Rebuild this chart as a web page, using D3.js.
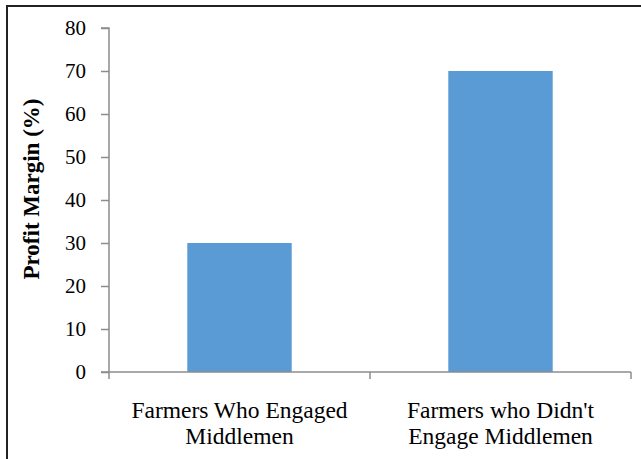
<!DOCTYPE html>
<html lang="en">
<head>
  <meta charset="UTF-8">
  <title>Profit Margin</title>
  <script src="https://cdn.jsdelivr.net/npm/d3@7"></script>
  <style>
    body { margin: 0; background: #fff; }
    text { font-family: "Liberation Serif", "Times New Roman", serif; }
  </style>
</head>
<body>
  <svg id="chart" width="641" height="459"></svg>
  <script>
    const categories = ["Farmers Who Engaged|Middlemen", "Farmers who Didn't|Engage Middlemen"];
    const values = [30, 70];
    const yTicks = [0, 10, 20, 30, 40, 50, 60, 70, 80];

    const svg = d3.select('#chart');
    const plotLeft = 109, plotRight = 631, plotTop = 28, plotBottom = 372;
    const serif = '"Liberation Serif", "Times New Roman", serif';

    // outer frame (left and top edges only visible)
    svg.append('path')
      .attr('d', 'M7,459 V6 H641')
      .attr('fill', 'none')
      .attr('stroke', '#222')
      .attr('stroke-width', 2);

    let x = d3.scaleBand().domain(categories).range([plotLeft, plotRight]).paddingInner(0.6).paddingOuter(0.3);
    let y = d3.scaleLinear().domain([0, 80]).range([plotBottom, plotTop]);

    svg.selectAll('rect.bar')
      .data(values)
      .join('rect')
      .attr('class', 'bar')
      .attr('x', (d, i) => x(categories[i]))
      .attr('y', d => y(d))
      .attr('width', x.bandwidth())
      .attr('height', d => plotBottom - y(d))
      .attr('fill', '#5b9bd5');

    // y axis
    let yAxis = svg.append('g')
      .attr('transform', `translate(${plotLeft},0)`)
      .call(d3.axisLeft(y).tickValues(yTicks).tickSize(8).tickPadding(15));
    yAxis.selectAll('line, path').attr('stroke', '#8c8c8c').attr('stroke-width', 1.5);
    yAxis.select('.domain').attr('d', `M-8,${plotTop}H0V${plotBottom}H-8`);
    yAxis.selectAll('text').attr('font-size', 21).attr('fill', '#000')
      .style('font-family', serif);

    // x axis: ticks at band boundaries
    let step = (plotRight - plotLeft) / categories.length;
    let xg = svg.append('g');
    xg.append('line')
      .attr('x1', plotLeft).attr('x2', plotRight)
      .attr('y1', plotBottom).attr('y2', plotBottom)
      .attr('stroke', '#8c8c8c').attr('stroke-width', 1.5);
    xg.selectAll('line.tick')
      .data(d3.range(categories.length + 1))
      .join('line')
      .attr('class', 'tick')
      .attr('x1', i => plotLeft + i * step).attr('x2', i => plotLeft + i * step)
      .attr('y1', plotBottom).attr('y2', plotBottom + 7)
      .attr('stroke', '#8c8c8c').attr('stroke-width', 1.5);

    xg.selectAll('text.cat')
      .data(categories)
      .join('text')
      .attr('class', 'cat')
      .attr('text-anchor', 'middle')
      .attr('font-size', 23.5)
      .attr('fill', '#000')
      .style('font-family', serif)
      .each(function (d) {
        let cx = x(d) + x.bandwidth() / 2;
        d.split('|').forEach((line, k) => {
          d3.select(this).append('tspan')
            .attr('x', cx)
            .attr('y', 418 + k * 26)
            .text(line);
        });
      });

    svg.append('text')
      .attr('transform', 'translate(39,189) rotate(-90)')
      .attr('text-anchor', 'middle')
      .attr('font-size', 23)
      .attr('font-weight', 'bold')
      .attr('fill', '#000')
      .style('font-family', serif)
      .text('Profit Margin (%)');
  </script>
</body>
</html>
